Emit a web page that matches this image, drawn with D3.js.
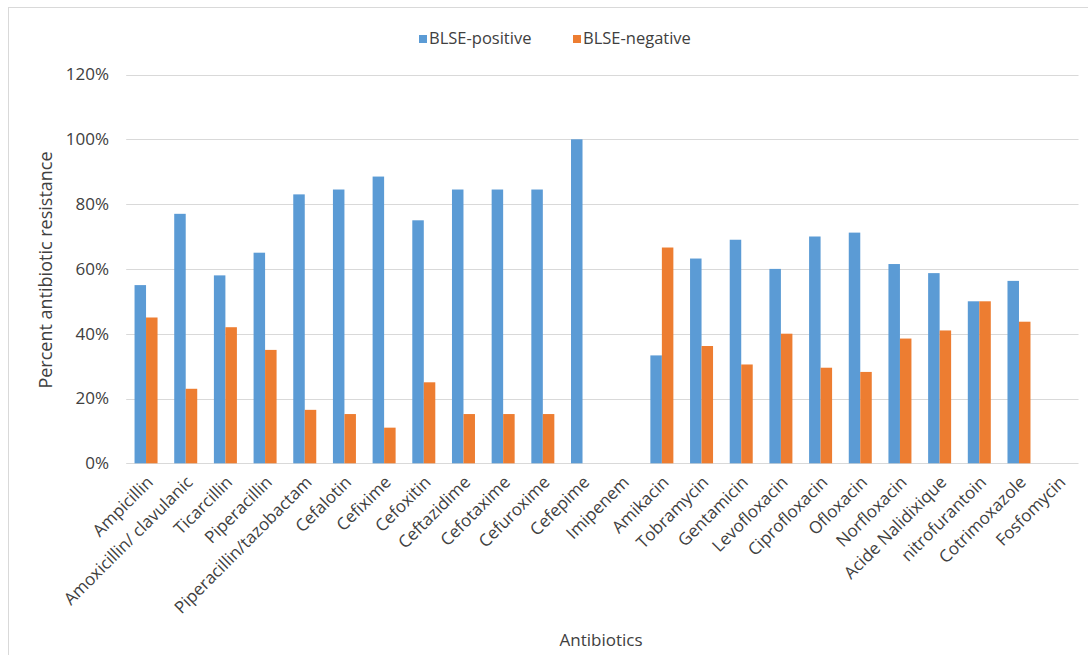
<!DOCTYPE html>
<html>
<head>
<meta charset="utf-8">
<script src="https://cdn.jsdelivr.net/npm/d3@7"></script>
<style>
  html, body { margin: 0; padding: 0; background: #fff; }
  svg { display: block; }
  text { font-family: "Open Sans", "Noto Sans", sans-serif; fill: #404040; }
</style>
</head>
<body>
<svg id="chart" width="1088" height="655"></svg>
<script>
const categories = ["Ampicillin", "Amoxicillin/ clavulanic", "Ticarcillin", "Piperacillin",
  "Piperacillin/tazobactam", "Cefalotin", "Cefixime", "Cefoxitin", "Ceftazidime", "Cefotaxime",
  "Cefuroxime", "Cefepime", "Imipenem", "Amikacin", "Tobramycin", "Gentamicin", "Levofloxacin",
  "Ciprofloxacin", "Ofloxacin", "Norfloxacin", "Acide Nalidixique", "nitrofurantoin",
  "Cotrimoxazole", "Fosfomycin"];
const blsePositive = [0.55, 0.77, 0.58, 0.65, 0.83, 0.845, 0.885, 0.75, 0.845, 0.845,
  0.845, 1.00, null, 0.333, 0.632, 0.69, 0.60, 0.70, 0.712, 0.615, 0.587, 0.50, 0.563, null];
const blseNegative = [0.45, 0.23, 0.42, 0.35, 0.165, 0.152, 0.11, 0.25, 0.152, 0.152,
  0.152, 0, null, 0.666, 0.362, 0.305, 0.40, 0.295, 0.282, 0.385, 0.41, 0.50, 0.437, null];
const seriesNames = ["BLSE-positive", "BLSE-negative"];
const seriesColors = ["#5B9BD5", "#ED7D31"];
const yTicks = [0, 0.2, 0.4, 0.6, 0.8, 1.0, 1.2];
const yTitle = "Percent antibiotic resistance";
const xTitle = "Antibiotics";

const svg = d3.select("#chart");

// frame
svg.append("rect").attr("x", 8.5).attr("y", 7.5).attr("width", 1100).attr("height", 700)
  .attr("fill", "none").attr("stroke", "#d9d9d9").attr("stroke-width", 1);

const x = d3.scaleBand().domain(categories).range([126.2, 1078.5]).padding(0);
const y = d3.scaleLinear().domain([0, 1.2]).range([463.3, 74.5]);
const barW = 11.5;

// gridlines
svg.append("g").selectAll("line").data(yTicks).join("line")
  .attr("x1", 126.2).attr("x2", 1078.5)
  .attr("y1", d => Math.round(y(d)) + 0.5).attr("y2", d => Math.round(y(d)) + 0.5)
  .attr("stroke", "#d9d9d9").attr("stroke-width", 1);

// y axis labels via d3 axis
const yAxis = d3.axisLeft(y).tickValues(yTicks).tickFormat(d3.format(".0%")).tickSize(0).tickPadding(0);
const yg = svg.append("g").attr("transform", "translate(109,0)").call(yAxis);
yg.select(".domain").remove();
yg.selectAll("text").attr("font-size", 17).attr("fill", "#404040")
  .attr("font-family", "'Open Sans', sans-serif");

// bars
const series = [blsePositive, blseNegative];
series.forEach((vals, si) => {
  svg.append("g").selectAll("rect")
    .data(categories.map((c, i) => ({ c, v: vals[i] })).filter(d => d.v != null && d.v > 0))
    .join("rect")
    .attr("x", d => x(d.c) + x.bandwidth() / 2 - barW + si * barW)
    .attr("width", barW)
    .attr("y", d => y(d.v))
    .attr("height", d => y(0) - y(d.v))
    .attr("fill", seriesColors[si]);
});

// x axis labels
const xAxis = d3.axisBottom(x).tickSize(0).tickPadding(0);
const xg = svg.append("g").attr("transform", `translate(0,${y(0)})`).call(xAxis);
xg.select(".domain").remove();
xg.selectAll(".tick text")
  .attr("font-size", 17).attr("fill", "#404040")
  .attr("font-family", "'Open Sans', sans-serif")
  .attr("text-anchor", "end")
  .attr("dy", null).attr("y", null)
  .attr("transform", "translate(8,20) rotate(-45)");

// y title
svg.append("text").attr("transform", "translate(52,270) rotate(-90)")
  .attr("text-anchor", "middle").attr("font-size", 18).text(yTitle);

// x title
svg.append("text").attr("x", 601).attr("y", 646)
  .attr("text-anchor", "middle").attr("font-size", 17).text(xTitle);

// legend
const legendX = [419, 573];
seriesNames.forEach((n, i) => {
  svg.append("rect").attr("x", legendX[i]).attr("y", 35).attr("width", 8).attr("height", 8)
    .attr("fill", seriesColors[i]);
  svg.append("text").attr("x", legendX[i] + 10).attr("y", 44).attr("font-size", 16.5)
    .attr("font-family", "'DejaVu Sans', sans-serif").text(n);
});
</script>
</body>
</html>
